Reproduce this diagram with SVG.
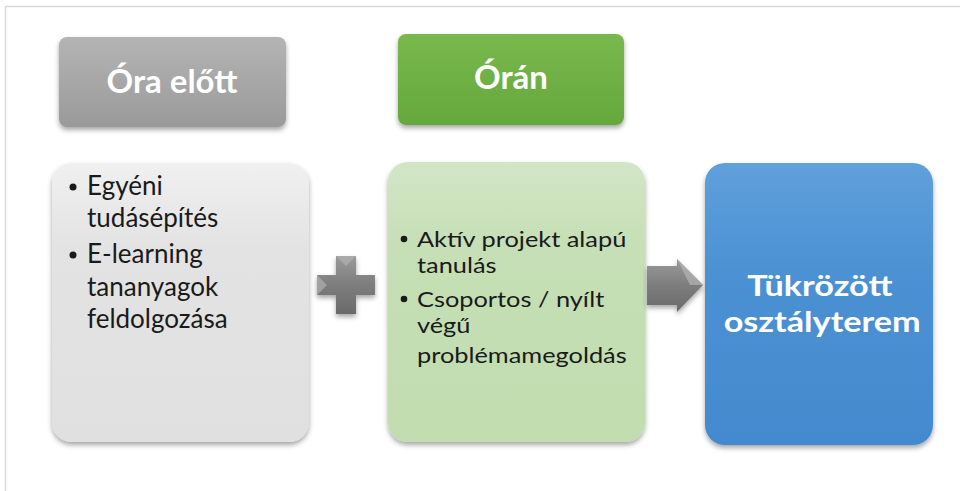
<svg xmlns="http://www.w3.org/2000/svg" width="960" height="491" viewBox="0 0 960 491">
<defs>
<style>
.hdr{font-family:Lato,"Open Sans","Liberation Sans",sans-serif;font-weight:bold;fill:#fff;text-anchor:middle}
.body{font-family:Lato,"Open Sans","Liberation Sans",sans-serif;fill:#1a1a1a}
.big{font-family:Lato,"Open Sans","Liberation Sans",sans-serif;font-weight:bold;fill:#fff;text-anchor:middle;font-size:29px}
</style>
<filter id="sh" x="-10%" y="-10%" width="120%" height="125%">
<feDropShadow dx="0" dy="3" stdDeviation="2.5" flood-color="#000" flood-opacity="0.35"/>
</filter>
<linearGradient id="gGray" x1="0" y1="0" x2="0" y2="1">
<stop offset="0" stop-color="#b4b4b4"/><stop offset="1" stop-color="#9a9a9a"/>
</linearGradient>
<linearGradient id="gGreen" x1="0" y1="0" x2="0" y2="1">
<stop offset="0" stop-color="#79b84e"/><stop offset="1" stop-color="#65a83c"/>
</linearGradient>
<linearGradient id="gLGray" x1="0" y1="0" x2="0" y2="1">
<stop offset="0" stop-color="#f0f0f0"/><stop offset="0.3" stop-color="#e3e3e3"/><stop offset="1" stop-color="#e0e0e0"/>
</linearGradient>
<linearGradient id="gLGreen" x1="0" y1="0" x2="0" y2="1">
<stop offset="0" stop-color="#d2e6c5"/><stop offset="0.3" stop-color="#c6dfb6"/><stop offset="1" stop-color="#c1ddaf"/>
</linearGradient>
<linearGradient id="gBlue" x1="0" y1="0" x2="0" y2="1">
<stop offset="0" stop-color="#5fa0dc"/><stop offset="0.4" stop-color="#4b91d3"/><stop offset="1" stop-color="#438acd"/>
</linearGradient>
<linearGradient id="gArrow" x1="0" y1="0" x2="0" y2="1">
<stop offset="0" stop-color="#9a9a9a"/><stop offset="0.5" stop-color="#7d7d7d"/><stop offset="1" stop-color="#6a6a6a"/>
</linearGradient>
</defs>
<rect width="960" height="491" fill="#fff"/>
<path d="M5.5 491 V6.5 H960" fill="none" stroke="#d9d9d9" stroke-width="1.5"/>

<g id="hdr-ora-elott">
<rect x="59" y="37" width="227" height="90" rx="8" fill="url(#gGray)" filter="url(#sh)"/>
<text class="hdr" x="172" y="93" font-size="33">Óra előtt</text>
</g>
<g id="hdr-oran">
<rect x="398" y="34" width="226" height="91" rx="8" fill="url(#gGreen)" filter="url(#sh)"/>
<text class="hdr" x="511" y="89" font-size="33">Órán</text>
</g>

<g id="box-ora-elott">
<rect x="52" y="163" width="257" height="279" rx="20" fill="url(#gLGray)" filter="url(#sh)"/>
<g class="body" font-size="26">
<circle cx="73" cy="187" r="3.5" fill="#1a1a1a"/>
<text x="87" y="195">Egyéni</text>
<text x="87" y="227">tudásépítés</text>
<circle cx="73" cy="255" r="3.5" fill="#1a1a1a"/>
<text x="87" y="263">E-learning</text>
<text x="87" y="296">tananyagok</text>
<text x="87" y="328">feldolgozása</text>
</g>
</g>

<g id="box-oran">
<rect x="388" y="162" width="257" height="280" rx="20" fill="url(#gLGreen)" filter="url(#sh)"/>
<circle cx="404" cy="239" r="3.3" fill="#1a1a1a"/>
<circle cx="404" cy="299" r="3.3" fill="#1a1a1a"/>
<g class="body" font-size="21.5" transform="translate(417,0) scale(1.18,1) translate(-417,0)">
<text x="417" y="247">Aktív projekt alapú</text>
<text x="417" y="273">tanulás</text>
<text x="417" y="307">Csoportos / nyílt</text>
<text x="417" y="333">végű</text>
<text x="417" y="363">problémamegoldás</text>
</g>
</g>

<g id="box-tukrozott">
<rect x="705" y="163" width="228" height="282" rx="20" fill="url(#gBlue)" filter="url(#sh)"/>
<g transform="translate(821,0) scale(1.18,1) translate(-821,0)">
<text class="big" x="820" y="296">Tükrözött</text>
<text class="big" x="822" y="332">osztályterem</text>
</g>
</g>

<g id="connectors">
<g id="plus" filter="url(#sh)">
<path d="M336 256 H356 V275 H375 V295 H356 V314 H336 V295 H317 V275 H336 Z" fill="url(#gArrow)"/>
<path d="M336 256 H356 L346 266 Z M317 275 L327 285 L317 295 Z" fill="#b0b0b0" opacity="0.7"/>
</g>
<g id="arrow" filter="url(#sh)">
<path d="M647 266 H677 V259 L703 285 L677 312 V305 H647 Z" fill="url(#gArrow)"/>
<path d="M677 259 L703 285 L690 285 Z" fill="#b5b5b5" opacity="0.7"/>
</g>
</g>
</svg>
